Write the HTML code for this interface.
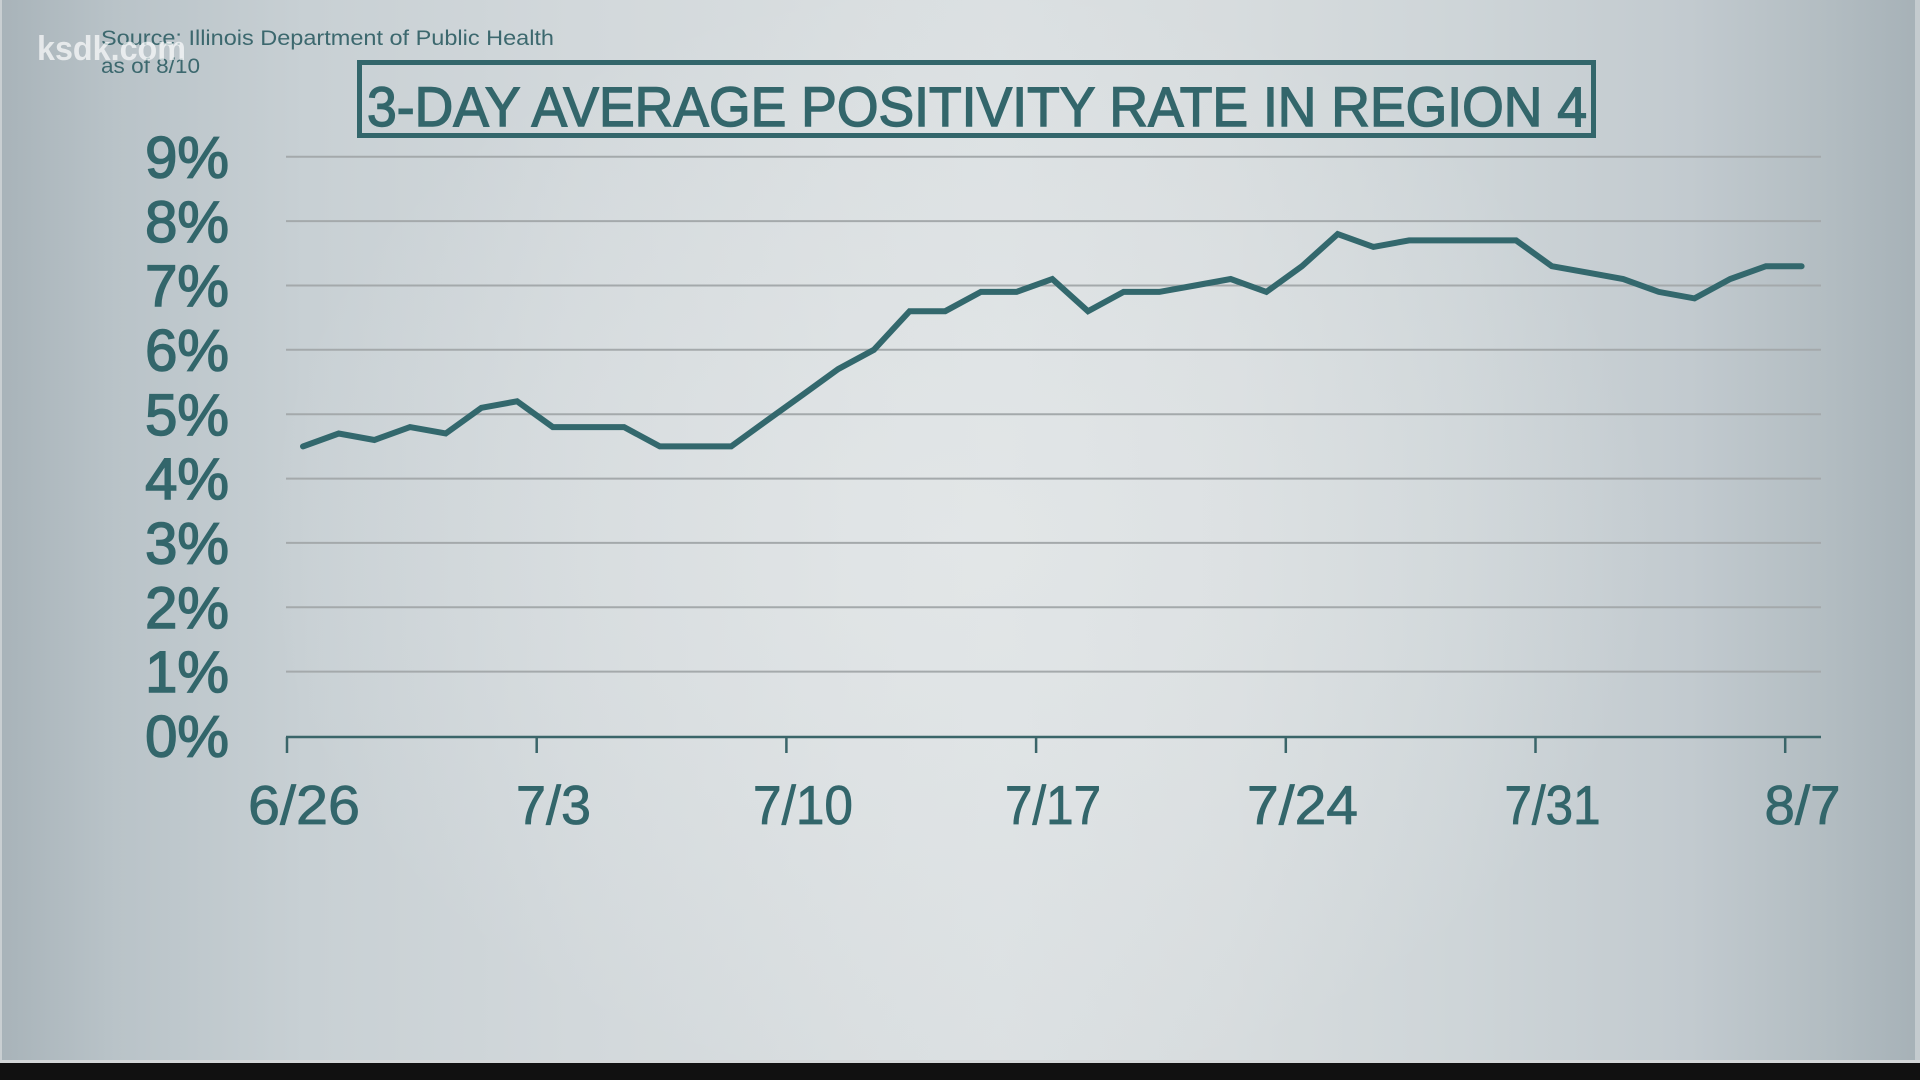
<!DOCTYPE html>
<html>
<head>
<meta charset="utf-8">
<style>
  html,body{margin:0;padding:0;width:1920px;height:1080px;overflow:hidden;}
  body{
    background:
      radial-gradient(ellipse 700px 560px at 50% 50%, rgba(232,235,236,0.55) 0%, rgba(232,235,236,0) 100%),
      linear-gradient(to right, #a8b3b9 0%, #b9c3c8 6%, #c8d0d4 16%, #d2d8db 30%, #d9dee0 45%, #dbe0e2 52%, #d7dcde 64%, #ced5d8 76%, #c2cacf 88%, #b3bdc2 95%, #a6b1b7 100%);
  }
  svg{position:absolute;left:0;top:0;}
  text{font-family:"Liberation Sans", sans-serif;}
</style>
</head>
<body>
<svg width="1920" height="1080" viewBox="0 0 1920 1080" xmlns="http://www.w3.org/2000/svg">
  <!-- edge highlights -->
  <rect x="0" y="0" width="2" height="1062" fill="#c9cfd2"/>
  <rect x="1915" y="0" width="5" height="1062" fill="#c4cbcf"/>

  <!-- source -->
  <text x="101" y="45" font-size="21" fill="#3c686e" textLength="453" lengthAdjust="spacingAndGlyphs">Source: Illinois Department of Public Health</text>
  <text x="101" y="73" font-size="21" fill="#3c686e" textLength="99" lengthAdjust="spacingAndGlyphs">as of 8/10</text>

  <!-- watermark -->
  <text x="37" y="60" font-size="34" font-weight="bold" fill="#ffffff" fill-opacity="0.68" textLength="149" lengthAdjust="spacingAndGlyphs">ksdk.com</text>

  <!-- title box -->
  <rect x="359.5" y="62.5" width="1234" height="73" fill="none" stroke="#33666b" stroke-width="5"/>
  <text x="367" y="126" font-size="56" fill="#33666b" stroke="#33666b" stroke-width="1.4" textLength="1220" lengthAdjust="spacingAndGlyphs">3-DAY AVERAGE POSITIVITY RATE IN REGION 4</text>

  <!-- gridlines -->
  <g stroke="#a4a9ab" stroke-width="2">
    <line x1="286" y1="156.8" x2="1821" y2="156.8"/>
    <line x1="286" y1="221.1" x2="1821" y2="221.1"/>
    <line x1="286" y1="285.5" x2="1821" y2="285.5"/>
    <line x1="286" y1="349.8" x2="1821" y2="349.8"/>
    <line x1="286" y1="414.2" x2="1821" y2="414.2"/>
    <line x1="286" y1="478.6" x2="1821" y2="478.6"/>
    <line x1="286" y1="542.9" x2="1821" y2="542.9"/>
    <line x1="286" y1="607.3" x2="1821" y2="607.3"/>
    <line x1="286" y1="671.6" x2="1821" y2="671.6"/>
  </g>

  <!-- x axis -->
  <g stroke="#3a6569" stroke-width="2.5">
    <line x1="286" y1="737" x2="1821" y2="737"/>
    <line x1="287" y1="737" x2="287" y2="753"/>
    <line x1="536.7" y1="737" x2="536.7" y2="753"/>
    <line x1="786.4" y1="737" x2="786.4" y2="753"/>
    <line x1="1036.1" y1="737" x2="1036.1" y2="753"/>
    <line x1="1285.8" y1="737" x2="1285.8" y2="753"/>
    <line x1="1535.5" y1="737" x2="1535.5" y2="753"/>
    <line x1="1785.2" y1="737" x2="1785.2" y2="753"/>
  </g>

  <!-- y labels -->
  <g font-size="58" fill="#33666b" stroke="#33666b" stroke-width="1.5" text-anchor="end">
    <text x="229" y="177.5">9%</text>
    <text x="229" y="242">8%</text>
    <text x="229" y="306">7%</text>
    <text x="229" y="370.5">6%</text>
    <text x="229" y="435">5%</text>
    <text x="229" y="499">4%</text>
    <text x="229" y="563.5">3%</text>
    <text x="229" y="628">2%</text>
    <text x="229" y="692">1%</text>
    <text x="229" y="756.5">0%</text>
  </g>

  <!-- x labels -->
  <g font-size="55" fill="#33666b" stroke="#33666b" stroke-width="0.8" text-anchor="middle">
    <text x="304" y="824" textLength="112" lengthAdjust="spacingAndGlyphs">6/26</text>
    <text x="553.5" y="824" textLength="75" lengthAdjust="spacingAndGlyphs">7/3</text>
    <text x="803" y="824" textLength="100" lengthAdjust="spacingAndGlyphs">7/10</text>
    <text x="1053" y="824" textLength="96" lengthAdjust="spacingAndGlyphs">7/17</text>
    <text x="1302.5" y="824" textLength="111" lengthAdjust="spacingAndGlyphs">7/24</text>
    <text x="1552.5" y="824" textLength="96" lengthAdjust="spacingAndGlyphs">7/31</text>
    <text x="1802.5" y="824" textLength="76" lengthAdjust="spacingAndGlyphs">8/7</text>
  </g>

  <!-- data line -->
  <polyline fill="none" stroke="#33686d" stroke-width="6" stroke-linecap="round" stroke-linejoin="miter" stroke-miterlimit="4"
    points="303,446.4 338.7,433.5 374.4,440.0 410,427.1 445.7,433.5 481.4,407.8 517.1,401.3 552.8,427.1 588.4,427.1 624.1,427.1 659.8,446.4 695.5,446.4 731.2,446.4 766.8,420.6 802.5,394.9 838.2,369.1 873.9,349.8 909.6,311.2 945.2,311.2 980.9,291.9 1016.6,291.9 1052.3,279 1088,311.2 1123.6,291.9 1159.3,291.9 1195,285.5 1230.7,279 1266.4,291.9 1302,266.2 1337.7,234 1373.4,246.9 1409.1,240.4 1444.8,240.4 1480.4,240.4 1516.1,240.4 1551.8,266.2 1587.5,272.6 1623.2,279 1658.8,291.9 1694.5,298.4 1730.2,279 1765.9,266.2 1801.6,266.2"/>

  <!-- bottom bar -->
  <rect x="0" y="1060" width="1920" height="3" fill="#d3d7d8"/>
  <rect x="0" y="1063" width="1920" height="17" fill="#111111"/>
</svg>
</body>
</html>
